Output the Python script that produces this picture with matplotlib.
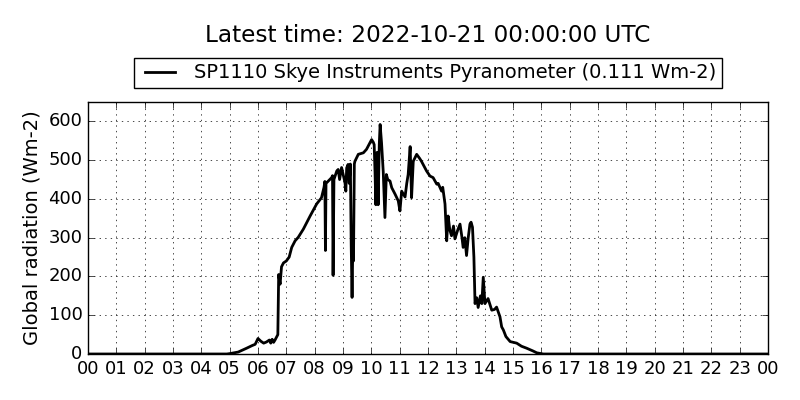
import matplotlib
matplotlib.use("Agg")
import matplotlib.pyplot as plt

hours = [0, 4.9, 5.0, 5.3, 5.6, 5.8, 5.9, 6.0, 6.1, 6.2, 6.3, 6.4, 6.45, 6.5, 6.55, 6.6, 6.7,
         6.73, 6.78, 6.83, 6.9, 7.0, 7.1, 7.19, 7.31, 7.42, 7.6, 7.84, 8.07, 8.24, 8.33, 8.36,
         8.38, 8.40, 8.6, 8.63, 8.65, 8.68, 8.78, 8.83, 8.88, 8.95, 9.0, 9.07, 9.1, 9.13, 9.18, 9.22,
         9.26, 9.29, 9.32, 9.35, 9.37, 9.40, 9.42, 9.54, 9.72, 9.83, 9.95, 10.01, 10.07, 10.1,
         10.13, 10.16, 10.2, 10.24, 10.28, 10.31, 10.36, 10.42, 10.48, 10.53, 10.58, 10.66,
         10.72, 10.84, 10.95, 11.01, 11.07, 11.19, 11.25, 11.3, 11.37, 11.42, 11.48, 11.6,
         11.7, 11.77, 11.95, 12.07, 12.18, 12.31, 12.36, 12.48, 12.52, 12.6, 12.66, 12.71,
         12.77, 12.83, 12.9, 12.95, 13.05, 13.13, 13.2, 13.24, 13.3, 13.36, 13.42, 13.48,
         13.52, 13.57, 13.62, 13.66, 13.72, 13.77, 13.85, 13.9, 13.95, 14.01, 14.12, 14.2,
         14.25, 14.35, 14.42, 14.54, 14.6, 14.66, 14.75, 14.9, 15.13, 15.3, 15.48, 15.7,
         15.84, 16.07, 24]
radiation = [0, 0, 1, 5, 15, 22, 25, 40, 33, 28, 31, 36, 28, 38, 30, 36, 50,
             205, 180, 225, 235, 240, 250, 275, 292, 301, 322, 356, 387, 403, 430, 445,
             267, 440, 455, 460, 203, 450, 472, 476, 450, 481, 465, 442, 420, 480, 489, 440,
             490, 280, 146, 300, 240, 490, 497, 515, 519, 528, 545, 553, 546, 540,
             470, 385, 520, 385, 540, 592, 545, 470, 352, 463, 450, 446,
             429, 412, 395, 369, 420, 405, 440, 463, 535, 403, 497, 515,
             505, 497, 472, 459, 455, 438, 440, 420, 430, 387, 292, 356,
             320, 305, 330, 297, 320, 335, 300, 275, 300, 254, 300, 335,
             340, 327, 250, 130, 145, 120, 150, 130, 198, 130, 143, 125,
             113, 115, 121, 96, 70, 62, 45, 32, 28, 20, 15, 8,
             3, 0, 0]
tick_labels = ["%02d" % (h % 24) for h in range(25)]
y_ticks = [0, 100, 200, 300, 400, 500, 600]

plt.style.use("classic")
fig = plt.figure(figsize=(8, 4), dpi=100)
ax = fig.add_axes([0.11, 0.115, 0.85, 0.63])
ax.plot(hours, radiation, color="black", linewidth=2,
        label="SP1110 Skye Instruments Pyranometer (0.111 Wm-2)")
ax.set_xlim(0, 24)
ax.set_ylim(0, 650)
ax.set_xticks(range(25))
ax.set_xticklabels(tick_labels, fontsize=13)
ax.set_yticks(y_ticks)
ax.tick_params(axis="y", labelsize=13)
ax.grid(True, color="black", linestyle=":")
ax.set_ylabel("Global radiation (Wm-2)", fontsize=14)
leg = ax.legend(loc="center", bbox_to_anchor=(0.535, 0.8175),
                bbox_transform=fig.transFigure, fontsize=14,
                fancybox=False, borderpad=0.3, handlelength=2.1,
                handletextpad=0.7)
fig.text(0.535, 0.9125, "Latest time: 2022-10-21 00:00:00 UTC", fontsize=16.7,
         ha="center", va="center")
fig.savefig("out.png", dpi=100)
